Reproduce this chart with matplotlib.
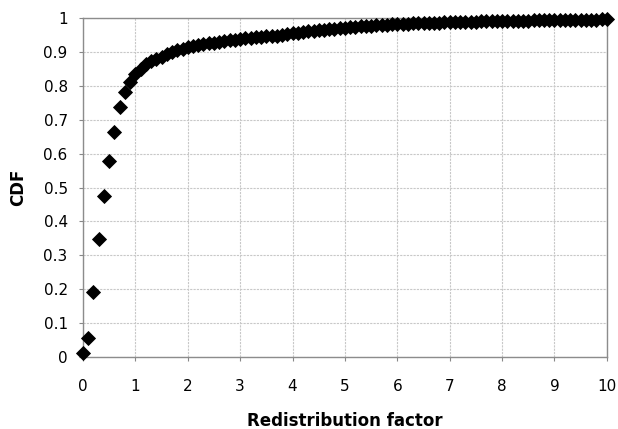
import matplotlib
matplotlib.use('Agg')
import matplotlib.pyplot as plt

plt.rcParams['font.family'] = ['DejaVu Sans']

# redistribution factor (x) and CDF (y)
factor = [0.0, 0.1, 0.2, 0.3, 0.4, 0.5, 0.6, 0.7, 0.8, 0.9,
          1.0, 1.1, 1.2, 1.3, 1.4, 1.5, 1.6, 1.7, 1.8, 1.9,
          2.0, 2.1, 2.2, 2.3, 2.4, 2.5, 2.6, 2.7, 2.8, 2.9,
          3.0, 3.1, 3.2, 3.3, 3.4, 3.5, 3.6, 3.7, 3.8, 3.9,
          4.0, 4.1, 4.2, 4.3, 4.4, 4.5, 4.6, 4.7, 4.8, 4.9,
          5.0, 5.1, 5.2, 5.3, 5.4, 5.5, 5.6, 5.7, 5.8, 5.9,
          6.0, 6.1, 6.2, 6.3, 6.4, 6.5, 6.6, 6.7, 6.8, 6.9,
          7.0, 7.1, 7.2, 7.3, 7.4, 7.5, 7.6, 7.7, 7.8, 7.9,
          8.0, 8.1, 8.2, 8.3, 8.4, 8.5, 8.6, 8.7, 8.8, 8.9,
          9.0, 9.1, 9.2, 9.3, 9.4, 9.5, 9.6, 9.7, 9.8, 9.9,
          10.0]
cdf = [0.012, 0.057, 0.193, 0.348, 0.475, 0.577, 0.665, 0.737, 0.782, 0.812,
       0.835, 0.851, 0.863, 0.872, 0.879, 0.885, 0.893, 0.899, 0.905, 0.910,
       0.914, 0.917, 0.920, 0.922, 0.925, 0.927, 0.929, 0.931, 0.934, 0.936,
       0.938, 0.940, 0.942, 0.943, 0.944, 0.946, 0.947, 0.947, 0.949, 0.952,
       0.955, 0.957, 0.959, 0.961, 0.962, 0.964, 0.965, 0.967, 0.969, 0.971,
       0.972, 0.973, 0.974, 0.975, 0.976, 0.977, 0.978, 0.979, 0.980, 0.981,
       0.982, 0.982, 0.983, 0.984, 0.984, 0.985, 0.985, 0.986, 0.986, 0.987,
       0.987, 0.988, 0.988, 0.989, 0.989, 0.989, 0.990, 0.990, 0.990, 0.991,
       0.991, 0.991, 0.992, 0.992, 0.992, 0.992, 0.993, 0.993, 0.993, 0.993,
       0.994, 0.994, 0.994, 0.994, 0.995, 0.995, 0.995, 0.995, 0.995, 0.996,
       0.996]

xticks = [0, 1, 2, 3, 4, 5, 6, 7, 8, 9, 10]
yticks = [0, 0.1, 0.2, 0.3, 0.4, 0.5, 0.6, 0.7, 0.8, 0.9, 1]
ytick_labels = ['0', '0.1', '0.2', '0.3', '0.4', '0.5', '0.6', '0.7', '0.8', '0.9', '1']

fig = plt.figure(figsize=(6.18, 4.29), dpi=100)
ax = fig.add_axes([0.1343, 0.1678, 0.8477, 0.7902])

ax.plot(factor, cdf, linestyle='none', marker='D', markersize=7.3,
        color='black', markeredgewidth=0.6, clip_on=False, zorder=3)

ax.set_xlim(0, 10)
ax.set_ylim(0, 1)
ax.set_xticks(xticks)
ax.set_yticks(yticks)
ax.set_yticklabels(ytick_labels)
ax.tick_params(labelsize=11, length=3, color='#888888')
ax.tick_params(axis='x', pad=13)
ax.tick_params(axis='y', pad=8)

ax.grid(True, color='#c8c8c8', linestyle=(0, (2, 1)), linewidth=0.8)
ax.set_axisbelow(True)
for s in ax.spines.values():
    s.set_color('#8c8c8c')
    s.set_linewidth(1.0)

ax.set_xlabel('Redistribution factor', fontsize=12, fontweight='bold', labelpad=13)
ax.set_ylabel('CDF', fontsize=12, fontweight='bold', labelpad=12)

plt.savefig('out.png', dpi=100)
